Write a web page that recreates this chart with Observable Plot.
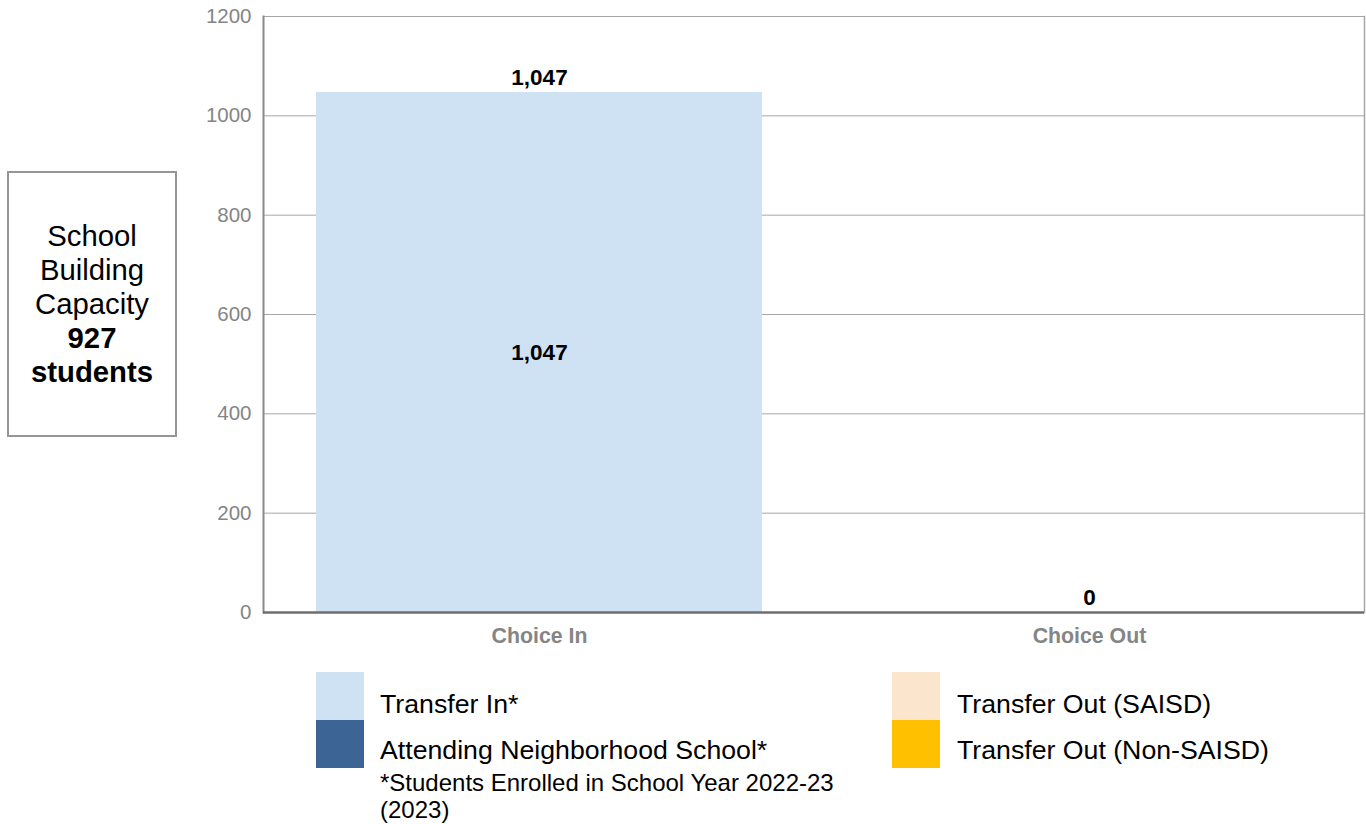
<!DOCTYPE html>
<html>
<head>
<meta charset="utf-8">
<script src="https://cdn.jsdelivr.net/npm/d3@7"></script>
<script src="https://cdn.jsdelivr.net/npm/@observablehq/plot@0.6"></script>
<style>
  html, body { margin: 0; padding: 0; background: #fff; }
  body { width: 1366px; height: 824px; position: relative; overflow: hidden; font-family: "Liberation Sans", Arial, sans-serif; }
  #chart { position: absolute; left: 0; top: 0; }
  #capacity { position: absolute; left: 7px; top: 171px; width: 166px; height: 262px; border: 2px solid #959595;
    display: flex; flex-direction: column; justify-content: center; align-items: center; text-align: center;
    font-size: 29.3px; line-height: 34px; color: #000; }
  #capacity b { font-weight: bold; }
  .sw { position: absolute; width: 48px; height: 48px; }
  .lt { position: absolute; font-size: 26.7px; line-height: 30px; color: #000; white-space: nowrap; }
  .fn { position: absolute; font-size: 24px; line-height: 27px; color: #000; white-space: nowrap; }
</style>
</head>
<body>
<div id="chart"></div>
<div id="capacity"></div>
<div id="legend"></div>
<script>
// ---- data ----
const categories = ["Choice In", "Choice Out"];
const seriesNames = ["Attending Neighborhood School*", "Transfer In*", "Transfer Out (Non-SAISD)", "Transfer Out (SAISD)"];
const seriesColors = ["#3c6595", "#cfe2f3", "#ffc000", "#fce5cd"];
const seriesCategory = ["Choice In", "Choice In", "Choice Out", "Choice Out"];
const seriesValues = [0, 1047, 0, 0];
const yTicks = [0, 200, 400, 600, 800, 1000, 1200];
const capacityValue = 927;
const footnote = ["*Students Enrolled in School Year 2022-23", "(2023)"];

const rows = seriesNames.map((s, i) => ({series: s, category: seriesCategory[i], value: seriesValues[i]}));
const totals = categories.map(c => ({category: c, total: d3.sum(rows.filter(r => r.category === c), r => r.value)}));
const fmt = d3.format(",");

const chart = Plot.plot({
  width: 1366,
  height: 660,
  marginLeft: 263,
  marginRight: 2,
  marginTop: 16,
  marginBottom: 48,
  style: {fontFamily: "'Liberation Sans', Arial, sans-serif", background: "#fff"},
  x: {domain: categories, paddingInner: 0.19, paddingOuter: 0.095, label: null},
  y: {domain: [0, 1200], label: null},
  color: {domain: seriesNames, range: seriesColors},
  marks: [
    Plot.ruleY(yTicks.filter(d => d > 0), {stroke: "#a6a6a6", strokeWidth: 1}),
    Plot.frame({anchor: "right", stroke: "#a6a6a6", strokeWidth: 1.5}),
    Plot.barY(rows, {x: "category", y: "value", fill: "series", order: seriesNames}),
    Plot.frame({anchor: "left", stroke: "#8a8a8a", strokeWidth: 2}),
    Plot.ruleY([0], {stroke: "#6e6e6e", strokeWidth: 2.5}),
    Plot.axisY({ticks: yTicks, tickFormat: d => String(d), tickSize: 0, tickPadding: 12, fontSize: 20.5, fill: "#858585", label: null}),
    Plot.axisX({tickSize: 0, tickPadding: 15, fontSize: 21.3, fontWeight: "bold", fill: "#858585", label: null}),
    Plot.text(rows.filter(r => r.value > 0), Plot.stackY({x: "category", y: "value", z: "series", order: seriesNames,
      text: d => fmt(d.value), fontSize: 22.5, fontWeight: "bold", fill: "#000"})),
    Plot.text(totals, {x: "category", y: "total", text: d => fmt(d.total), dy: -15, fontSize: 22.5, fontWeight: "bold", fill: "#000"})
  ]
});
document.getElementById("chart").appendChild(chart);

document.getElementById("capacity").innerHTML =
  `<div>School</div><div>Building</div><div>Capacity</div><div><b>${capacityValue}</b></div><div><b>students</b></div>`;

// legend: two columns, order as in the reference
const legendItems = [
  {name: seriesNames[1], color: seriesColors[1], sx: 316, sy: 672, tx: 380, ty: 689},
  {name: seriesNames[0], color: seriesColors[0], sx: 316, sy: 720, tx: 380, ty: 735},
  {name: seriesNames[3], color: seriesColors[3], sx: 892, sy: 672, tx: 957, ty: 689},
  {name: seriesNames[2], color: seriesColors[2], sx: 892, sy: 720, tx: 957, ty: 735}
];
const legend = document.getElementById("legend");
legendItems.forEach(it => {
  const sw = document.createElement("div");
  sw.className = "sw";
  sw.style.left = it.sx + "px"; sw.style.top = it.sy + "px"; sw.style.background = it.color;
  legend.appendChild(sw);
  const t = document.createElement("div");
  t.className = "lt";
  t.style.left = it.tx + "px"; t.style.top = it.ty + "px";
  t.textContent = it.name;
  legend.appendChild(t);
});
footnote.forEach((line, i) => {
  const f = document.createElement("div");
  f.className = "fn";
  f.style.left = "380px"; f.style.top = (769 + i * 27) + "px";
  f.textContent = line;
  legend.appendChild(f);
});
</script>
</body>
</html>
